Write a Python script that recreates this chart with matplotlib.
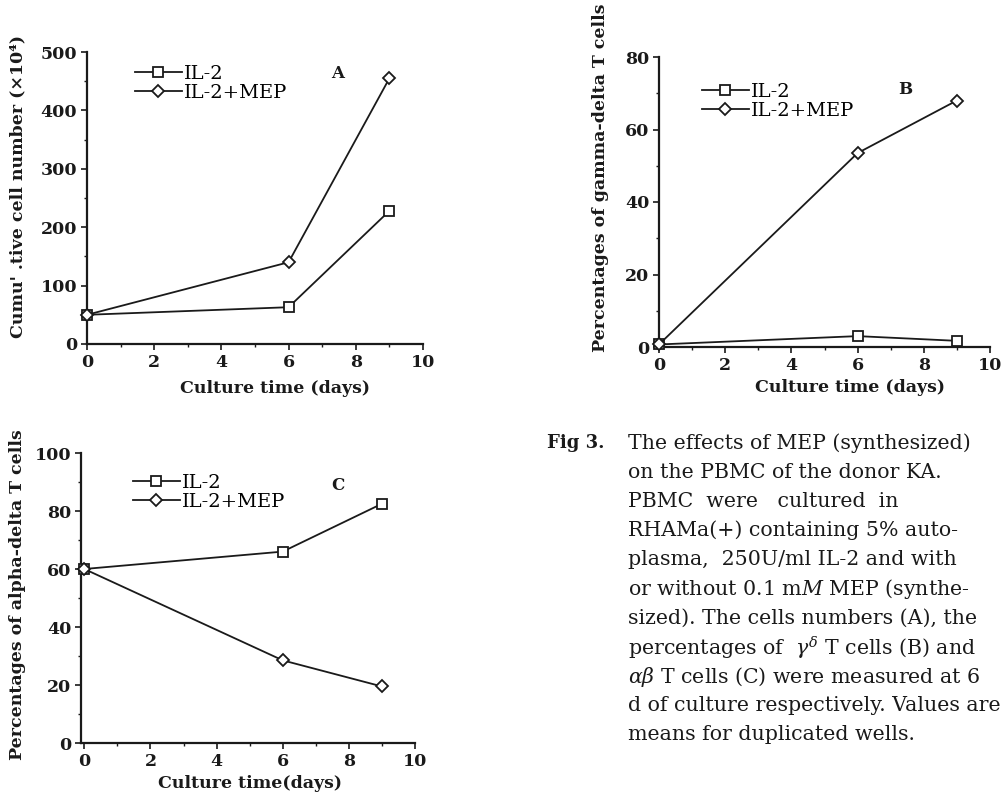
import matplotlib
matplotlib.use("Agg")
import matplotlib.pyplot as plt
from matplotlib.ticker import MultipleLocator

plt.rcParams['font.family'] = ['DejaVu Serif']
plt.rcParams['mathtext.fontset'] = 'dejavuserif'

days = [0, 6, 9]
a_il2 = [50, 63, 228]
a_mep = [50, 140, 455]
b_il2 = [0.7, 3, 1.7]
b_mep = [0.7, 53.5, 68]
c_il2 = [60, 66, 82.5]
c_mep = [60, 28.5, 19.5]
series_labels = ["IL-2", "IL-2+MEP"]

caption_lines = [
    "The effects of MEP (synthesized)",
    "on the PBMC of the donor KA.",
    "PBMC  were   cultured  in",
    "RHAMa(+) containing 5% auto-",
    "plasma,  250U/ml IL-2 and with",
    r"or without 0.1 m$M$ MEP (synthe-",
    "sized). The cells numbers (A), the",
    r"percentages of  $\gamma^{\delta}$ T cells (B) and",
    r"$\alpha\beta$ T cells (C) were measured at 6",
    "d of culture respectively. Values are",
    "means for duplicated wells.",
]

W, H = 1003, 793
fig = plt.figure(figsize=(W / 100, H / 100), dpi=100)

def px_axes(l, r, t, b):
    return fig.add_axes([l / W, 1 - b / H, (r - l) / W, (b - t) / H])

ink = '#1a1a1a'

def style(ax, xlim, ylim, ymaj, ymin):
    ax.set_xlim(*xlim)
    ax.set_ylim(*ylim)
    for s in ['top', 'right']:
        ax.spines[s].set_visible(False)
    for s in ['left', 'bottom']:
        ax.spines[s].set_linewidth(1.6)
        ax.spines[s].set_color(ink)
    ax.xaxis.set_major_locator(MultipleLocator(2))
    ax.xaxis.set_minor_locator(MultipleLocator(1))
    ax.yaxis.set_major_locator(MultipleLocator(ymaj))
    ax.yaxis.set_minor_locator(MultipleLocator(ymin))
    ax.tick_params(which='major', length=4, width=1.2, colors=ink, labelsize=12.5, pad=3)
    ax.tick_params(which='minor', length=2.5, width=1.0, colors=ink)
    for lab in ax.get_xticklabels() + ax.get_yticklabels():
        lab.set_fontweight('bold')

def plot_series(ax, il2, mep, legend_xy):
    l1, = ax.plot(days, il2, '-', color=ink, lw=1.3, marker='s', ms=6.5,
                  mfc='white', mec=ink, mew=1.3, clip_on=False, zorder=3)
    l2, = ax.plot(days, mep, '-', color=ink, lw=1.3, marker='D', ms=6,
                  mfc='white', mec=ink, mew=1.3, clip_on=False, zorder=3)
    ax.legend([l1, l2], series_labels, loc='upper left',
              bbox_to_anchor=(legend_xy[0] / W, 1 - legend_xy[1] / H),
              bbox_transform=fig.transFigure, frameon=False, borderpad=0,
              borderaxespad=0, handlelength=2.4, handletextpad=0.1,
              labelspacing=0.05, numpoints=1, prop={'size': 14})

def labels(ax, xl, xlc, yl, ylc):
    ax.set_xlabel(xl, fontsize=12.5, fontweight='bold', color=ink)
    ax.xaxis.label.set_va('center')
    ax.xaxis.set_label_coords(*xlc)
    ax.set_ylabel(yl, fontsize=12.5, fontweight='bold', color=ink)
    ax.yaxis.label.set_va('center')
    ax.yaxis.set_label_coords(*ylc)

# Panel A
axA = px_axes(87, 423, 52, 344)
style(axA, (0, 10), (0, 500), 100, 50)
plot_series(axA, a_il2, a_mep, (135, 65))
labels(axA, "Culture time (days)", (0.56, -0.151),
       "Cumu' .tive cell number (×10⁴)", (-0.205, 0.538))
fig.text(338 / W, 1 - 73 / H, "A", fontsize=12, fontweight='bold', ha='center', va='center', color=ink)

# Panel B
axB = px_axes(659, 990, 57, 347)
style(axB, (0, 10), (0, 80), 20, 10)
plot_series(axB, b_il2, b_mep, (702, 83))
labels(axB, "Culture time (days)", (0.577, -0.141),
       "Percentages of gamma-delta T cells", (-0.178, 0.583))
fig.text(905 / W, 1 - 90 / H, "B", fontsize=12, fontweight='bold', ha='center', va='center', color=ink)

# Panel C
axC = px_axes(81, 415, 453, 743)
style(axC, (-0.1, 10), (0, 100), 20, 10)
plot_series(axC, c_il2, c_mep, (133, 474))
labels(axC, "Culture time(days)", (0.506, -0.138),
       "Percentages of alpha-delta T cells", (-0.189, 0.51))
fig.text(338 / W, 1 - 485 / H, "C", fontsize=12, fontweight='bold', ha='center', va='center', color=ink)

# Caption
fig.text(547 / W, 1 - 443 / H, "Fig 3.", fontsize=13, fontweight='bold',
         ha='left', va='center', color=ink)
y0 = 443
for i, line in enumerate(caption_lines):
    fig.text(628 / W, 1 - (y0 + i * 29.2) / H, line, fontsize=14.8,
             ha='left', va='center', color=ink)

fig.savefig("out.png", dpi=100, facecolor='white')
